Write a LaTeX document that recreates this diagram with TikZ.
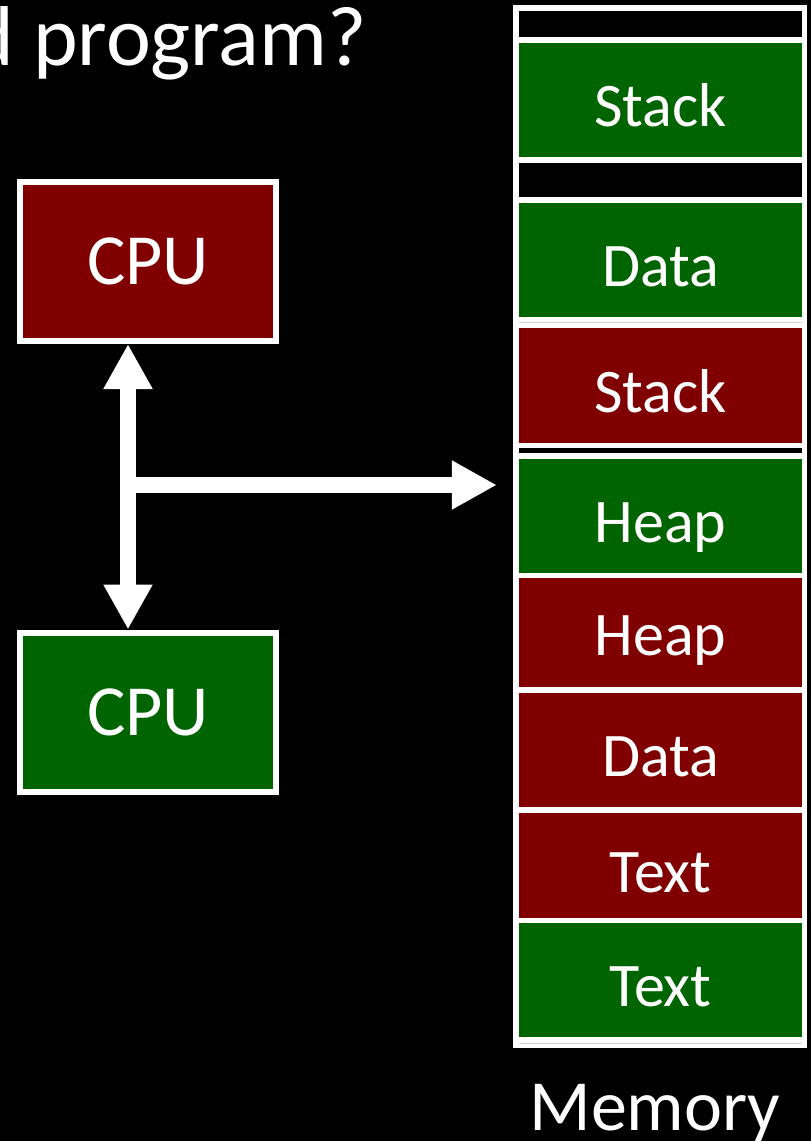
\documentclass[tikz,border=0pt]{standalone}
\usepackage{fontspec}
\setmainfont{Carlito}
\definecolor{okgreen}{RGB}{0, 100, 0}
\definecolor{badred}{RGB}{128, 0, 0}
\usetikzlibrary{arrows.meta, calc, positioning}
\newcommand{\titlefont}{\fontsize{85}{95}\selectfont}
\newcommand{\cpufont}{\fontsize{72}{80}\selectfont}
\newcommand{\segfont}{\fontsize{62}{70}\selectfont}
\tikzset{
    cpubox/.style={rectangle, minimum width=256pt, minimum height=159pt, line width=6pt, draw=white, text=white, font=\cpufont, align=center},
    seg/.style={rectangle, minimum width=283pt, inner sep=0pt, outer sep=0pt},
    lbl/.style={text=white, font=\segfont, text height=53pt, text depth=0pt},
    okseg/.style={seg, lbl, fill=okgreen},
    badseg/.style={seg, lbl, fill=badred},
    freeseg/.style={seg, fill=black},
    seam/.style={seg, fill=black!18},
    busarrow/.style={line width=16pt, white, -{Triangle[width=46pt, length=45pt]}}
}
\begin{document}
\begin{tikzpicture}[x=1pt, y=-1pt]
        % Page and background
        \useasboundingbox (0,0) rectangle (811,1141);
        \fill[black] (0,0) rectangle (811,1141);

        % Title (cut at the left edge)
        \node[text=white, font=\titlefont, anchor=base east, inner sep=0pt] (title) at (367,65) {d program?};

        % The two CPUs
        \node[cpubox, fill=badred] (cpuA) at (148,261.5) {CPU};
        \node[cpubox, fill=okgreen] (cpuB) at (148,712) {CPU};

        % Memory column
        \node[rectangle, fill=white, minimum width=294pt, minimum height=1043pt, inner sep=0pt] (mem) at (660,526.5) {};
        \node[freeseg, minimum height=26pt] (free1) at (660.5,24) {};
        \node[okseg, minimum height=114pt] (stackG) at (660.5,100) {Stack};
        \node[freeseg, minimum height=34pt] (free2) at (660.5,180) {};
        \node[okseg, minimum height=114pt] (dataG) at (660.5,260) {Data};
        \node[seam, minimum height=0.8pt] (seam1) at (660.5,322) {};
        \node[badseg, minimum height=115pt] (stackR) at (660.5,385.5) {Stack};
        \node[freeseg, minimum height=5pt] (free3) at (660.5,450.5) {};
        \node[okseg, minimum height=114pt] (heapG) at (660.5,516) {Heap};
        \node[badseg, minimum height=109pt, text height=45pt] (heapR) at (660.5,632.5) {Heap};
        \node[badseg, minimum height=114pt] (dataR) at (660.5,750) {Data};
        \node[badseg, minimum height=105pt] (textR) at (660.5,865.5) {Text};
        \node[okseg, minimum height=114pt] (textG) at (660.5,980) {Text};
        \node[seam, minimum height=0.8pt] (seam2) at (660.5,1043) {};
        \node[text=white, font=\cpufont, anchor=base, inner sep=0pt] (memlabel) at (655,1130) {Memory};

        % Bus arrows
        \coordinate (bus) at (128,485);
        \draw[busarrow] (bus) -- (bus |- cpuA.south);
        \draw[busarrow] (bus) -- (bus |- cpuB.north);
        \draw[busarrow] (bus) -- ($(bus -| mem.west)+(-16,0)$);
    \end{tikzpicture}
\end{document}
